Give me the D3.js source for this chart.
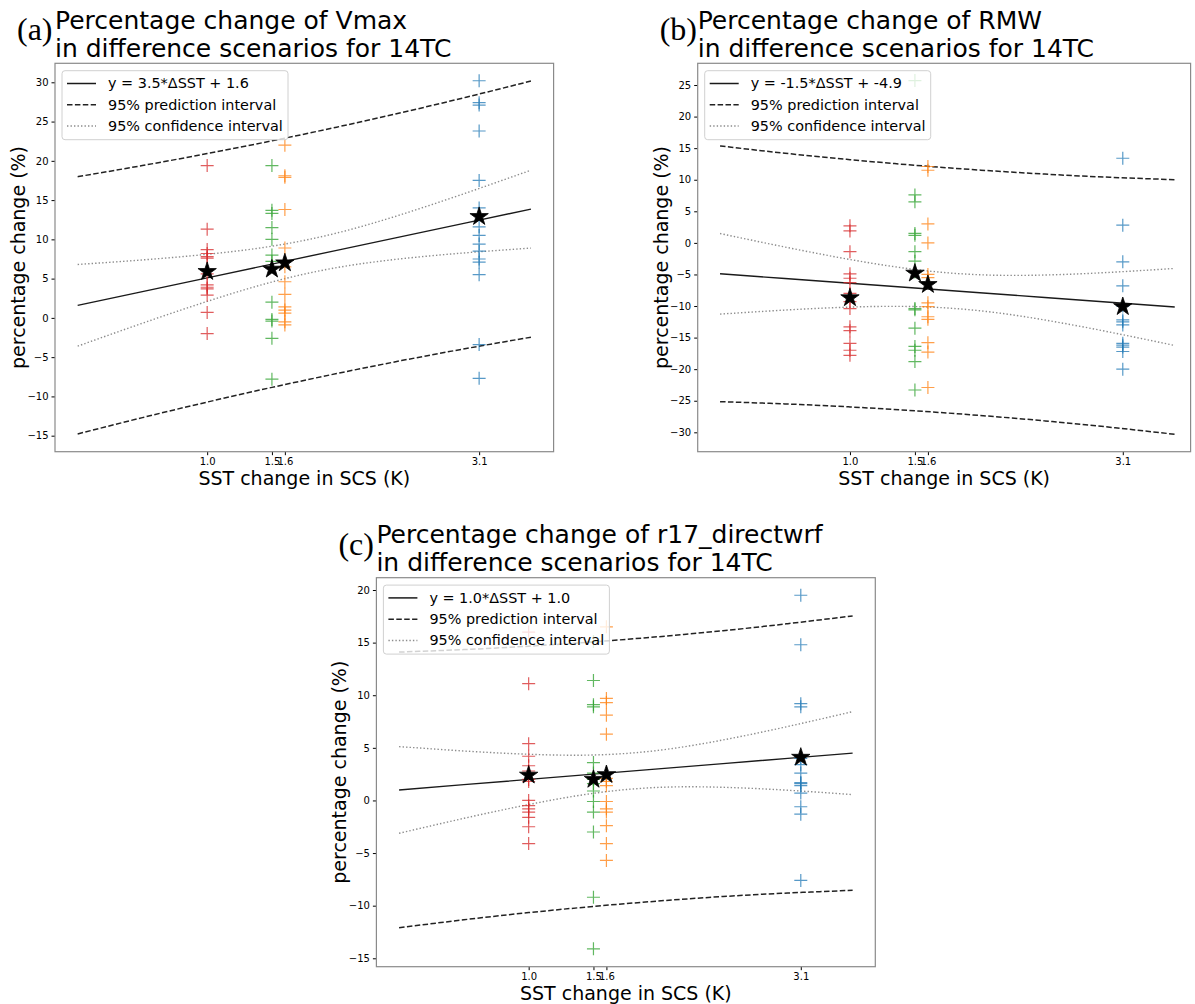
<!DOCTYPE html>
<html>
<head>
  <meta charset="utf-8">
  <title>Percentage change vs SST change</title>
  <script src="https://cdn.jsdelivr.net/npm/d3@7"></script>
  <style>
    body { margin: 0; background: #fff; }
    text { font-family: "DejaVu Sans", sans-serif; }
  </style>
</head>
<body>
  <svg width="1195" height="1004"></svg>
  <script>
    // scenario SST changes (K) and the matplotlib tab colours used for them
    const groupX = [1.0, 1.5, 1.6, 3.1];
    const groupColors = ["#d62728", "#2ca02c", "#ff7f0e", "#1f77b4"];
    const xTicks = [1.0, 1.5, 1.6, 3.1];
    // x positions where the fit / interval curves were read
    const curveX = [0, 0.5, 1, 1.5, 2, 2.5, 3, 3.5];

    // (a) Vmax
    const vmaxRed = [19.4, 11.3, 8.7, 8.2, 7.8, 7.6, 5.6, 4.2, 3.9, 3.7, 2.9, 0.7, -2.0];
    const vmaxGreen = [19.4, 13.7, 13.3, 11.5, 10.0, 8.0, 7.2, 2.0, -0.2, -0.4, -2.6, -7.8];
    const vmaxOrange = [22.0, 18.1, 17.9, 13.8, 8.9, 6.5, 4.6, 3.0, 1.4, 1.0, 0.6, -0.5, -0.9];
    const vmaxBlue = [30.2, 27.4, 27.1, 23.8, 17.5, 14.0, 11.6, 10.5, 9.4, 8.5, 7.5, 7.1, 5.5, -3.4, -7.7];
    const vmaxMeans = [5.9, 6.2, 7.0, 12.9];
    const vmaxFit = [1.6, 3.35, 5.1, 6.85, 8.6, 10.35, 12.1, 13.85];
    const vmaxPredUp = [17.98, 19.40, 20.92, 22.55, 24.29, 26.14, 28.10, 30.16];
    const vmaxPredLo = [-14.78, -12.70, -10.72, -8.85, -7.09, -5.44, -3.90, -2.46];
    const vmaxConfUp = [6.80, 7.38, 8.10, 9.13, 10.80, 13.17, 15.91, 18.81];
    const vmaxConfLo = [-3.60, -0.68, 2.10, 4.57, 6.40, 7.53, 8.29, 8.89];
    const vmaxYTicks = [-15, -10, -5, 0, 5, 10, 15, 20, 25, 30];

    // (b) RMW
    const rmwRed = [2.7, 1.9, -1.4, -4.9, -5.6, -6.3, -8.0, -9.3, -10.4, -13.3, -13.9, -15.9, -17.0, -17.8];
    const rmwGreen = [25.7, 7.6, 6.5, 1.5, 1.2, -1.4, -2.9, -4.6, -10.4, -10.6, -13.5, -16.4, -17.0, -18.8, -23.3];
    const rmwOrange = [12.1, 11.5, 3.0, 0.0, -5.0, -5.5, -9.5, -10.1, -11.7, -12.1, -15.8, -17.3, -22.9];
    const rmwBlue = [13.4, 2.8, -3.0, -6.8, -10.0, -12.2, -12.5, -13.0, -15.9, -16.2, -16.5, -17.2, -20.0];
    const rmwMeans = [-8.7, -4.8, -6.6, -10.1];
    const rmwFit = [-4.9, -5.65, -6.4, -7.15, -7.9, -8.65, -9.4, -10.15];
    const rmwPredUp = [15.35, 14.20, 13.18, 12.29, 11.53, 10.89, 10.39, 10.01];
    const rmwPredLo = [-25.15, -25.50, -25.98, -26.59, -27.33, -28.19, -29.19, -30.31];
    const rmwConfUp = [1.48, -0.66, -2.63, -4.21, -5.05, -5.09, -4.67, -4.05];
    const rmwConfLo = [-11.28, -10.64, -10.17, -10.09, -10.75, -12.21, -14.13, -16.25];
    const rmwYTicks = [-30, -25, -20, -15, -10, -5, 0, 5, 10, 15, 20, 25];

    // (c) r17_directwrf
    const r17Red = [16.0, 11.1, 5.4, 4.2, 3.3, 2.8, 2.0, 1.8, 0.0, -0.5, -0.8, -1.1, -1.6, -2.5, -4.1];
    const r17Green = [15.1, 11.4, 9.1, 8.9, 3.6, 2.6, 2.0, 1.6, 0.9, -0.1, -1.1, -3.0, -9.2, -14.1];
    const r17Orange = [16.5, 9.7, 9.3, 8.1, 6.3, 2.1, 1.8, 1.4, -0.1, -0.8, -1.1, -2.4, -4.1, -5.7];
    const r17Blue = [19.5, 14.8, 9.2, 8.9, 4.0, 3.4, 2.6, 1.7, 1.6, 1.4, 0.7, -0.6, -1.3, -7.6];
    const r17Means = [2.4, 2.0, 2.45, 4.1];
    const r17Fit = [1.0, 1.5, 2.0, 2.5, 3.0, 3.5, 4.0, 4.5];
    const r17PredUp = [14.10, 14.34, 14.66, 15.07, 15.56, 16.13, 16.80, 17.54];
    const r17PredLo = [-12.10, -11.34, -10.66, -10.07, -9.56, -9.13, -8.80, -8.54];
    const r17ConfUp = [5.12, 4.70, 4.39, 4.32, 4.76, 5.75, 7.03, 8.44];
    const r17ConfLo = [-3.12, -1.70, -0.39, 0.68, 1.24, 1.25, 0.97, 0.56];
    const r17YTicks = [-15, -10, -5, 0, 5, 10, 15, 20];

    const legendLabels = ["95% prediction interval", "95% confidence interval"];

    const svg = d3.select("svg");
    svg.append("rect").attr("width", 1195).attr("height", 1004).attr("fill", "#fff");

    const panels = [
      {
        letter: "(a)", name: "Vmax", eq: "y = 3.5*ΔSST + 1.6",
        box: [55, 63.3, 553.6, 451.7], xDom: [-0.175, 3.675], yDom: [-17.04, 32.42],
        groups: [vmaxRed, vmaxGreen, vmaxOrange, vmaxBlue], means: vmaxMeans,
        fit: vmaxFit, predUp: vmaxPredUp, predLo: vmaxPredLo, confUp: vmaxConfUp, confLo: vmaxConfLo,
        yTicks: vmaxYTicks
      },
      {
        letter: "(b)", name: "RMW", eq: "y = -1.5*ΔSST + -4.9",
        box: [697.7, 63.3, 1190.6, 451.7], xDom: [-0.172, 3.622], yDom: [-33.07, 28.44],
        groups: [rmwRed, rmwGreen, rmwOrange, rmwBlue], means: rmwMeans,
        fit: rmwFit, predUp: rmwPredUp, predLo: rmwPredLo, confUp: rmwConfUp, confLo: rmwConfLo,
        yTicks: rmwYTicks
      },
      {
        letter: "(c)", name: "r17_directwrf", eq: "y = 1.0*ΔSST + 1.0",
        box: [376.4, 577.7, 875.3, 966.7], xDom: [-0.175, 3.675], yDom: [-15.8, 21.17],
        groups: [r17Red, r17Green, r17Orange, r17Blue], means: r17Means,
        fit: r17Fit, predUp: r17PredUp, predLo: r17PredLo, confUp: r17ConfUp, confLo: r17ConfLo,
        yTicks: r17YTicks
      }
    ];

    const minus = d => (d < 0 ? "\u2212" + Math.abs(d) : "" + d);

    panels.forEach(p => {
      const [x0, y0, x1, y1] = p.box;
      const x = d3.scaleLinear().domain(p.xDom).range([x0, x1]);
      const y = d3.scaleLinear().domain(p.yDom).range([y1, y0]);
      const g = svg.append("g");

      // panel letter + title
      g.append("text")
        .attr("x", x0 - 38).attr("y", y0 - 23)
        .style("font-family", "'Liberation Serif', 'Times New Roman', serif")
        .style("font-size", "32px")
        .text(p.letter);
      g.append("text").attr("x", x0).attr("y", y0 - 34.5)
        .style("font-size", "25px").text("Percentage change of " + p.name);
      g.append("text").attr("x", x0).attr("y", y0 - 6.3)
        .style("font-size", "25px").text("in difference scenarios for 14TC");

      // axes
      g.append("g")
        .attr("transform", `translate(0,${y1})`)
        .call(d3.axisBottom(x).tickValues(xTicks).tickSize(3.5).tickPadding(3).tickFormat(d3.format(".1f")))
        .call(a => a.select(".domain").remove())
        .selectAll("text").style("font-size", "10px").style("font-family", "DejaVu Sans");
      g.append("g")
        .attr("transform", `translate(${x0},0)`)
        .call(d3.axisLeft(y).tickValues(p.yTicks).tickSize(3.5).tickPadding(3).tickFormat(minus))
        .call(a => a.select(".domain").remove())
        .selectAll("text").style("font-size", "10px").style("font-family", "DejaVu Sans");

      g.append("text")
        .attr("x", (x0 + x1) / 2).attr("y", y1 + 33)
        .attr("text-anchor", "middle").style("font-size", "19px")
        .text("SST change in SCS (K)");
      g.append("text")
        .attr("transform", `translate(${x0 - 30},${(y0 + y1) / 2}) rotate(-90)`)
        .attr("text-anchor", "middle").style("font-size", "19px")
        .text("percentage change (%)");

      const plot = g.append("g");
      const curve = d3.line().x((d, i) => x(curveX[i])).y(d => y(d)).curve(d3.curveNatural);

      [p.predUp, p.predLo].forEach(arr => plot.append("path")
        .attr("d", curve(arr)).attr("fill", "none")
        .attr("stroke", "#222").attr("stroke-width", 1.5).attr("stroke-dasharray", "5.5,2.4"));
      [p.confUp, p.confLo].forEach(arr => plot.append("path")
        .attr("d", curve(arr)).attr("fill", "none")
        .attr("stroke", "#8c8c8c").attr("stroke-width", 1.4).attr("stroke-dasharray", "1.4,2.1"));
      plot.append("path")
        .attr("d", d3.line().x((d, i) => x(curveX[i])).y(d => y(d))(p.fit))
        .attr("fill", "none").attr("stroke", "#1a1a1a").attr("stroke-width", 1.4);

      // "+" markers for each scenario
      p.groups.forEach((vals, gi) => {
        plot.selectAll(null).data(vals).enter().append("path")
          .attr("transform", d => `translate(${x(groupX[gi])},${y(d)})`)
          .attr("d", "M-6.5,0H6.5M0,-6.5V6.5")
          .attr("stroke", groupColors[gi]).attr("stroke-width", 1.2)
          .attr("stroke-opacity", 0.75).attr("fill", "none");
      });

      // group means as stars
      plot.selectAll(null).data(p.means).enter().append("path")
        .attr("transform", (d, i) => `translate(${x(groupX[i])},${y(d)})`)
        .attr("d", d3.symbol(d3.symbolStar).size(105))
        .attr("fill", "#000").attr("stroke", "#000").attr("stroke-width", 0.8);

      // frame
      g.append("rect")
        .attr("x", x0).attr("y", y0).attr("width", x1 - x0).attr("height", y1 - y0)
        .attr("fill", "none").attr("stroke", "#8a8a8a").attr("stroke-width", 1.2);

      // legend
      const lg = g.append("g").attr("transform", `translate(${x0 + 7},${y0 + 7.4})`);
      lg.append("rect").attr("width", 226).attr("height", 69).attr("rx", 3)
        .attr("fill", "#fff").attr("fill-opacity", 0.8)
        .attr("stroke", "#d0d0d0").attr("stroke-width", 1);
      const rows = [
        { label: p.eq, stroke: "#1a1a1a", dash: null },
        { label: legendLabels[0], stroke: "#222", dash: "5.5,2.4" },
        { label: legendLabels[1], stroke: "#8c8c8c", dash: "1.4,2.1" }
      ];
      rows.forEach((r, i) => {
        const cy = 12.8 + i * 21.3;
        lg.append("line").attr("x1", 5).attr("x2", 34).attr("y1", cy).attr("y2", cy)
          .attr("stroke", r.stroke).attr("stroke-width", 1.5)
          .attr("stroke-dasharray", r.dash);
        lg.append("text").attr("x", 46).attr("y", cy + 5)
          .style("font-size", "14.4px").text(r.label);
      });
    });
  </script>
</body>
</html>
